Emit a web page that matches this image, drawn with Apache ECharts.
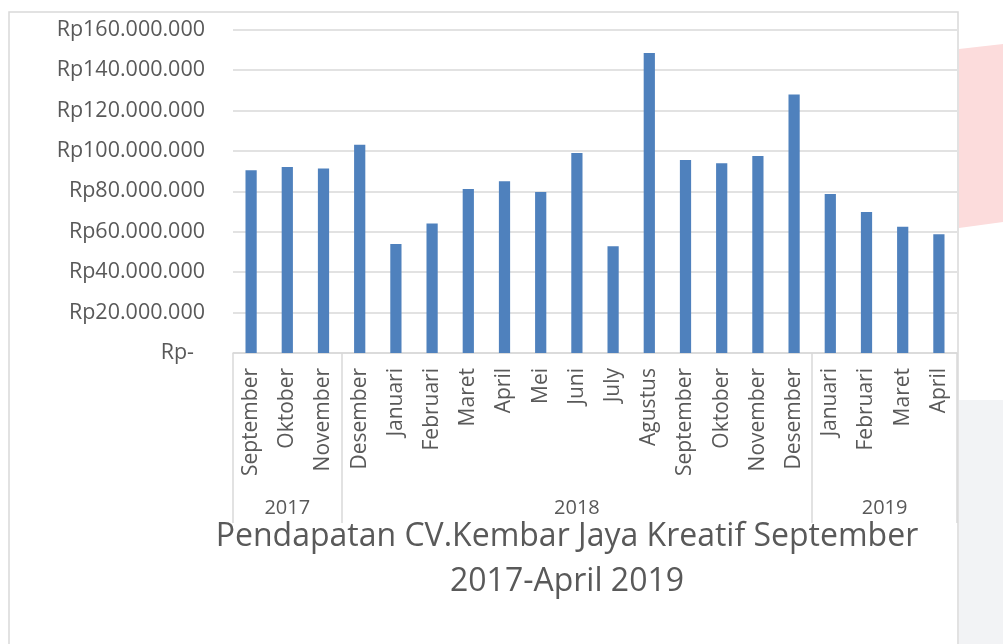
<!DOCTYPE html>
<html>
<head>
<meta charset="utf-8">
<script src="https://cdn.jsdelivr.net/npm/echarts@6/dist/echarts.min.js"></script>
<style>
  html, body { margin: 0; padding: 0; background: #fff; }
  #chart { width: 1003px; height: 644px; }
</style>
</head>
<body>
<div id="chart"></div>
<script>
// bulan per kategori
const months = ['September', 'Oktober', 'November', 'Desember', 'Januari', 'Februari', 'Maret', 'April', 'Mei', 'Juni',
  'July', 'Agustus', 'September', 'Oktober', 'November', 'Desember', 'Januari', 'Februari', 'Maret', 'April'];
// pendapatan (Rp)
const revenue = [90400000, 92000000, 91300000, 103000000, 53900000, 64100000, 81100000, 84900000, 79600000, 98900000,
  52800000, 148400000, 95500000, 93800000, 97400000, 127900000, 78600000, 69700000, 62500000, 58700000];
// kelompok tahun
const years = ['2017', '2018', '2019'];
const yearCounts = [3, 13, 4];
const yTicks = [0, 20000000, 40000000, 60000000, 80000000, 100000000, 120000000, 140000000, 160000000];

const textColor = '#595959';
const lineColor = '#d9d9d9';
const font = '"Open Sans", "Noto Sans", sans-serif';

// batas dan tengah kelompok tahun
const bounds = [0];
const centers = [];
yearCounts.forEach(c => {
  const start = bounds[bounds.length - 1];
  centers.push(start + c / 2);
  bounds.push(start + c);
});

function rupiah(v) {
  if (v === 0) return '{z|Rp-}';
  return 'Rp' + String(v).replace(/\B(?=(\d{3})+(?!\d))/g, '.');
}

const chart = echarts.init(document.getElementById('chart'));
const option = {
  animation: false,
  backgroundColor: '#fff',
  grid: {
    left: 233,
    right: 46,
    top: 29.5,
    bottom: 291
  },
  xAxis: [{
    type: 'category',
    data: months,
    position: 'bottom',
    axisLine: { lineStyle: { color: lineColor, width: 1.5 } },
    axisTick: { show: false },
    axisLabel: {
      interval: 0,
      rotate: 90,
      margin: 15,
      fontSize: 21,
      fontFamily: font,
      color: textColor
    }
  }, {
    type: 'value',
    position: 'bottom',
    min: 0,
    max: months.length,
    axisLine: { show: false },
    splitLine: { show: false },
    axisTick: {
      customValues: bounds,
      length: 170,
      lineStyle: { color: lineColor, width: 1.5 }
    },
    axisLabel: {
      customValues: centers,
      margin: 145,
      fontSize: 20,
      fontFamily: font,
      color: textColor,
      formatter: function (v) {
        const i = centers.indexOf(v);
        return i >= 0 ? years[i] : '';
      }
    }
  }],
  yAxis: {
    type: 'value',
    min: yTicks[0],
    max: yTicks[yTicks.length - 1],
    interval: yTicks[1] - yTicks[0],
    axisLine: { show: false },
    axisTick: { show: false },
    splitLine: { lineStyle: { color: lineColor, width: 1.5 } },
    axisLabel: {
      margin: 28,
      fontSize: 21.5,
      fontFamily: font,
      color: textColor,
      formatter: rupiah,
      rich: {
        z: { fontSize: 21.5, fontFamily: font, color: textColor, padding: [0, 11, 0, 0] }
      }
    }
  },
  series: [{
    type: 'bar',
    data: revenue,
    barWidth: '31%',
    itemStyle: { color: '#4f81bd' }
  }],
  graphic: [{
    type: 'polygon',
    silent: true,
    z: -10,
    shape: { points: [[959, 49], [1003, 44], [1003, 222], [959, 228]] },
    style: { fill: '#fcdcdc' }
  }, {
    type: 'rect',
    silent: true,
    z: -10,
    shape: { x: 959, y: 400, width: 44, height: 244 },
    style: { fill: '#f2f3f5' }
  }, {
    type: 'rect',
    silent: true,
    z: -5,
    shape: { x: 9, y: 12, width: 949, height: 650 },
    style: { fill: 'none', stroke: lineColor, lineWidth: 1.5 }
  }, {
    type: 'text',
    silent: true,
    x: 567,
    y: 514,
    style: {
      text: 'Pendapatan CV.Kembar Jaya Kreatif September\n2017-April 2019',
      align: 'center',
      fontSize: 32,
      lineHeight: 45,
      fontFamily: font,
      fill: textColor
    }
  }]
};
chart.setOption(option);
</script>
</body>
</html>
